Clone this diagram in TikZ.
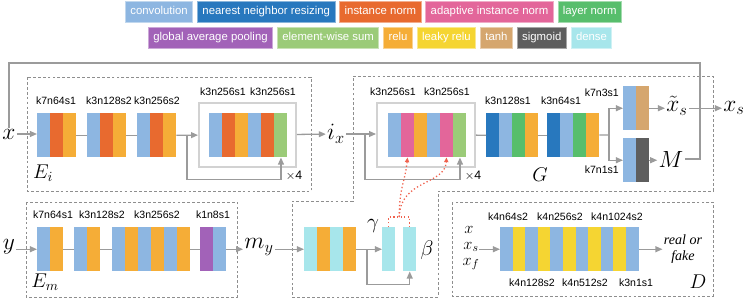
\documentclass[tikz,border=0pt]{standalone}
\usepackage{fix-cm}
\usepackage{fontspec}
\setsansfont{Liberation Sans}
\newfontfamily\termes{Liberation Serif}
\usepackage{tikz}
\usetikzlibrary{arrows.meta, positioning, calc}

\definecolor{conv}{HTML}{8DB6E1}
\definecolor{nnr}{HTML}{2878BE}
\definecolor{inorm}{HTML}{E86A2F}
\definecolor{ada}{HTML}{E3669A}
\definecolor{lnorm}{HTML}{57BE6C}
\definecolor{gap}{HTML}{A262B8}
\definecolor{esum}{HTML}{9BCB78}
\definecolor{relu}{HTML}{F5AD37}
\definecolor{lrelu}{HTML}{F5D532}
\definecolor{tanh}{HTML}{D5A66E}
\definecolor{sigm}{HTML}{5E5E5E}
\definecolor{dense}{HTML}{A7E6EB}
\definecolor{linegray}{HTML}{9B9B9B}
\definecolor{resgray}{HTML}{D2D2D2}
\definecolor{boxgray}{HTML}{8E8E8E}
\definecolor{filmred}{HTML}{F0624E}

\tikzstyle{lab} = [font=\sffamily\fontsize{9}{10}\selectfont, inner sep=0pt]
\tikzstyle{var} = [font=\fontsize{20}{24}\selectfont, inner sep=1pt]
\tikzstyle{smallvar} = [font=\fontsize{14}{16}\selectfont, inner sep=0pt]
\tikzstyle{modname} = [font=\fontsize{17}{20}\selectfont, inner sep=0pt]
\tikzstyle{line} = [draw=linegray, line width=1.1pt]
\tikzstyle{arrow} = [line, -{Triangle[length=6pt, width=5pt]}]
\tikzstyle{resbox} = [draw=resgray, line width=1.6pt, inner sep=0pt]
\tikzstyle{modbox} = [draw=boxgray, line width=0.85pt, dash pattern=on 2.4pt off 1.8pt]
\tikzstyle{film} = [draw=filmred, line width=1.1pt, dotted]
\tikzstyle{filmarrow} = [film, -{Triangle[length=4pt, width=3.5pt]}]
\tikzset{legend/.style={rectangle, fill=#1, draw=#1!55!white, line width=0.7pt,
  text=white, font=\sffamily\fontsize{9.7}{11}\selectfont, inner xsep=4.2pt,
  minimum height=0.62cm, text height=7pt, text depth=2pt}}

% a block of coloured stripes, named as one node
\newcommand{\stripew}{13}
\newcommand{\convblock}[5]{%
  \foreach \c [count=\i from 0] in {#5}
    \fill[fill=\c] ({#2+\stripew*\i},#3) rectangle ++(\stripew,44);
  \node[inner sep=0pt, minimum width={#4*\stripew*0.03cm}, minimum height=1.32cm,
    anchor=north west] (#1) at (#2,#3) {};
}

\begin{document}
\begin{tikzpicture}[x=0.03cm, y=-0.03cm]
\useasboundingbox (0,0) rectangle (747,300);

% legend
\node[legend=conv, anchor=west] (lconv) at (125,12) {convolution};
\node[legend=nnr, right=3.4pt of lconv] (lnnr) {nearest neighbor resizing};
\node[legend=inorm, right=3.4pt of lnnr] (linorm) {instance norm};
\node[legend=ada, right=3.4pt of linorm] (lada) {adaptive instance norm};
\node[legend=lnorm, right=3.4pt of lada] (llnorm) {layer norm};
\node[legend=gap, anchor=west] (lgap) at (148,38) {global average pooling};
\node[legend=esum, right=3.4pt of lgap] (lsum) {element-wise sum};
\node[legend=relu, right=3.4pt of lsum] (lrelu) {relu};
\node[legend=lrelu, right=3.4pt of lrelu] (llrelu) {leaky relu};
\node[legend=tanh, right=3.4pt of llrelu] (ltanh) {tanh};
\node[legend=sigm, right=3.4pt of ltanh] (lsigm) {sigmoid};
\node[legend=dense, right=3.4pt of lsigm] (ldense) {dense};

% module frames
\draw[modbox] (27,77) rectangle (311,191);
\draw[modbox] (26,202) rectangle (237,297);
\draw[modbox] (353,76) -- (713,76) -- (713,191) -- (438,191) -- (438,297)
  -- (292,297) -- (292,201) -- (353,201) -- cycle;
\draw[modbox] (452,202) rectangle (713,296);

% E_i
\node[var] (xin) at (9,134) {$x$};
\convblock{e1}{37}{113}{3}{conv,inorm,relu}
\convblock{e2}{87}{113}{3}{conv,inorm,relu}
\convblock{e3}{137}{113}{3}{conv,inorm,relu}
\node[resbox, minimum width=2.91cm, minimum height=1.92cm] (eres) at (247.5,135) {};
\convblock{er}{209}{113}{6}{conv,inorm,relu,conv,inorm,esum}
\node[lab] at (56,101) {k7n64s1};
\node[lab] at (109,101) {k3n128s2};
\node[lab] at (157,101) {k3n256s2};
\node[lab] at (223,92) {k3n256s1};
\node[lab] at (273,92) {k3n256s1};
\node[lab, font=\sffamily\fontsize{10.5}{12}\selectfont] at (294,176) {$\times$4};
\node[modname] at (43,173) {$E_i$};
\node[var] (ix) at (336,134) {$i_x$};
\coordinate (ebr) at (187,135);

\draw [arrow] (xin.east) -- (xin.east -| e1.west);
\draw [line] (e1) -- (e2);
\draw [line] (e2) -- (e3);
\draw [arrow] (e3) -- (eres);
\draw [arrow] (ebr) |- ($(er.south east)+(-6.5,22)$) -- ($(er.south east)+(-6.5,0)$);
\draw [arrow] (eres) -- (ix);

% G
\node[resbox, minimum width=2.94cm, minimum height=1.92cm] (gres) at (426,135) {};
\convblock{gr}{388}{113}{6}{conv,ada,relu,conv,ada,esum}
\convblock{g1}{486}{113}{4}{nnr,conv,lnorm,relu}
\convblock{g2}{547}{113}{4}{nnr,conv,lnorm,relu}
\convblock{gup}{623}{86}{2}{conv,tanh}
\convblock{gdn}{623}{138}{2}{conv,sigm}
\node[lab] at (393,92) {k3n256s1};
\node[lab] at (447,92) {k3n256s1};
\node[lab] at (508,101) {k3n128s1};
\node[lab] at (561,101) {k3n64s1};
\node[lab, anchor=east] at (619,93) {k7n3s1};
\node[lab, anchor=east] at (619,170) {k7n1s1};
\node[lab, font=\sffamily\fontsize{10.5}{12}\selectfont] at (473,176) {$\times$4};
\node[modname] at (540,175) {$G$};
\node[var] (xts) at (677,106) {$\tilde{x}_s$};
\node[var] (xs) at (734,108) {$x_s$};
\node[var] (M) at (671,159) {$M$};
\coordinate (gbr) at (365,135);
\coordinate (gsp) at (609,135);
\coordinate (loopc) at (700,63);

\draw [arrow] (ix.east) -- (ix.east -| gres.west);
\draw [arrow] (gbr) |- ($(gr.south east)+(-6.5,22)$) -- ($(gr.south east)+(-6.5,0)$);
\draw [line] (gres) -- (g1);
\draw [line] (g1) -- (g2);
\draw [line] (g2) -- (gsp);
\draw [arrow] (gsp) |- (gup);
\draw [arrow] (gsp) |- (gdn);
\draw [arrow] (gup) -- (gup -| xts.west);
\draw [arrow] (gdn) -- (gdn -| M.west);
\draw [arrow] (xts.east |- gup) -- (xs.west |- gup);
\draw [line] (xin.north) |- (loopc) |- (M.east);

% E_m
\node[var] (yin) at (9,247) {$y$};
\convblock{m1}{37}{227}{2}{conv,relu}
\convblock{m2}{74}{227}{2}{conv,relu}
\convblock{m3}{112}{227}{6}{conv,relu,conv,relu,conv,relu}
\convblock{m4}{200}{227}{2}{gap,conv}
\node[lab] at (53,215) {k7n64s1};
\node[lab] at (102,215) {k3n128s2};
\node[lab] at (157,215) {k3n256s2};
\node[lab] at (213,215) {k1n8s1};
\node[modname] at (45,282) {$E_m$};
\node[var] (my) at (259,247) {$m_y$};

\draw [arrow] (yin.east |- m1) -- (m1);
\draw [line] (m1) -- (m2);
\draw [line] (m2) -- (m3);
\draw [line] (m3) -- (m4);
\draw [arrow] (m4) -- (m4 -| my.west);

% dense part of G
\convblock{dn}{304}{227}{4}{dense,relu,dense,relu}
\convblock{gam}{382}{227}{1}{dense}
\convblock{bet}{403}{227}{1}{dense}
\node[var, font=\fontsize{18}{20}\selectfont] at (373,226) {$\gamma$};
\node[var, font=\fontsize{18}{20}\selectfont] at (427,250) {$\beta$};
\coordinate (dbr) at (367,249);
\coordinate (fm) at ($(gam.north)!0.5!(bet.north)+(0,-10)$);

\draw [arrow] (my.east |- dn) -- (dn);
\draw [arrow] (dn) -- (gam);
\draw [arrow] (dbr) |- ($(bet.south)+(0,13)$) -- (bet.south);
\draw [film] (gam.north) -- ++(0,-10) -| (bet.north);
\draw [filmarrow] (fm) .. controls ($(fm)+(0,-30)$) and ($(gr.south west)+(17,25)$) .. ($(gr.south west)+(19.5,0)$);
\draw [filmarrow] (fm) .. controls ($(fm)+(1,-38)$) and ($(gr.south west)+(57,28)$) .. ($(gr.south west)+(58.5,0)$);

% D
\renewcommand{\stripew}{12.6}
\convblock{dblk}{500}{227}{11}{conv,lrelu,conv,lrelu,conv,lrelu,conv,lrelu,conv,lrelu,conv}
\node[lab] at (508,217) {k4n64s2};
\node[lab] at (560,217) {k4n256s2};
\node[lab] at (617,217) {k4n1024s2};
\node[lab] at (532,283) {k4n128s2};
\node[lab] at (585,283) {k4n512s2};
\node[lab] at (636,283) {k3n1s1};
\node[smallvar] (dx) at (469,230) {$x$};
\node[smallvar] (dxs) at (471,247) {$x_s$};
\node[smallvar] (dxf) at (471,264) {$x_f$};
\node[font=\termes\itshape\fontsize{12}{14}\selectfont, align=center, inner sep=1pt] (rf) at (683,249) {real or\\fake};
\node[modname] at (698,282) {$D$};

\draw [arrow] (dxs.east |- dblk) -- (dblk);
\draw [arrow] (dblk) -- (dblk -| rf.west);

\end{tikzpicture}
\end{document}
